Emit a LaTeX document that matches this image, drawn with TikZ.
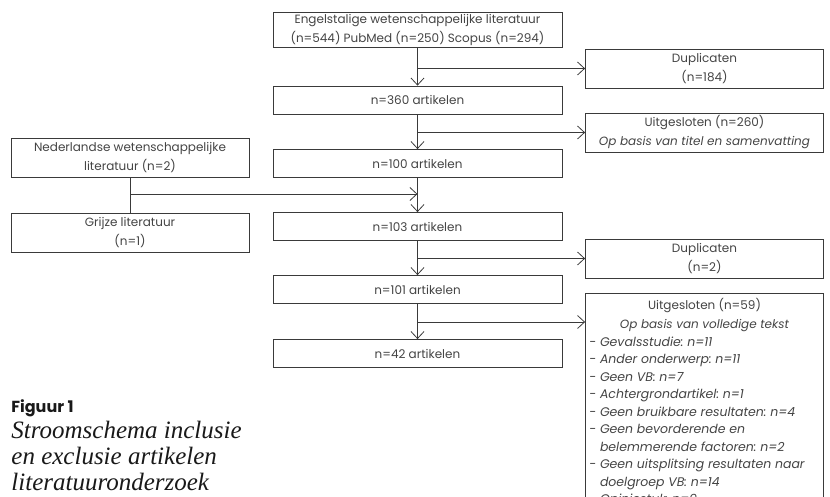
\documentclass[tikz,border=0pt]{standalone}
\usepackage{fontspec}
\setmainfont{Poppins}
\newfontfamily\capserif{Liberation Serif}
\usetikzlibrary{arrows.meta}
\definecolor{lijn}{HTML}{3A3A3A}
\definecolor{tekst}{HTML}{444444}
\frenchspacing

\begin{document}
\begin{tikzpicture}
[x=1pt, y=-1pt, font=\fontsize{12}{19}\selectfont, line width=0.8pt, text=tekst,
hoofd/.style={rectangle, draw=lijn, inner sep=0pt, minimum width=289pt, minimum height=28pt, align=center},
zij/.style={rectangle, draw=lijn, inner sep=0pt, minimum width=238pt, minimum height=39pt, align=center},
regel/.style={anchor=base west, inner sep=0pt, font=\fontsize{12.5}{17.5}\selectfont\itshape},
pijl/.style={draw=lijn, -{Straight Barb[length=7pt, width=13pt]}}]

\useasboundingbox (0,0) rectangle (830,497);
\clip (0,0) rectangle (830,497);

\node[hoofd, minimum height=35pt] (engels) at (417.5,29.5) {Engelstalige wetenschappelijke literatuur\\(n=544) PubMed (n=250) Scopus (n=294)};
\node[hoofd] (n360) at (417.5,100) {n=360 artikelen};
\node[hoofd] (n100) at (417.5,163.5) {n=100 artikelen};
\node[hoofd] (n103) at (417.5,226.5) {n=103 artikelen};
\node[hoofd] (n101) at (417.5,289.5) {n=101 artikelen};
\node[hoofd] (n42) at (417.5,353.5) {n=42 artikelen};

\node[zij] (dup1) at (704.5,68.5) {Duplicaten\\(n=184)};
\node[zij] (uit1) at (704.5,132.5) {Uitgesloten (n=260)\\\textit{Op basis van titel en samenvatting}};
\node[zij] (dup2) at (704.5,258.5) {Duplicaten\\(n=2)};
\node[zij, minimum height=230pt, anchor=north] (uit2) at (704.5,293) {};

\node[zij] (ned) at (130,157.5) {Nederlandse wetenschappelijke\\literatuur (n=2)};
\node[zij] (grijs) at (130,233) {Grijze literatuur\\(n=1)};

% tekst in het laatste uitsluitingsblok
\node[anchor=base, inner sep=0pt] (kop1) at (704.5,309) {Uitgesloten (n=59)};
\node[anchor=base, inner sep=0pt] (kop2) at (704.5,328) {\textit{Op basis van volledige tekst}};
\foreach \tekst [count=\i from 0] in {{- Gevalsstudie: n=11}, {- Ander onderwerp: n=11}, {- Geen VB: n=7},
  {- Achtergrondartikel: n=1}, {- Geen bruikbare resultaten: n=4}, {- Geen bevorderende en},
  {\hphantom{- }belemmerende factoren: n=2}, {- Geen uitsplitsing resultaten naar},
  {\hphantom{- }doelgroep VB: n=14}, {- Opiniestuk: n=9}} {
  \node[regel] (r\i) at (589,346+17.5*\i) {\tekst};
}

\draw[pijl] (engels) -- (n360);
\draw[pijl] (engels.south |- dup1) -- (dup1);
\draw[pijl] (n360) -- (n100);
\draw[pijl] (n360.south |- uit1) -- (uit1);
\draw[pijl] (n100) -- (n103);
\draw[pijl] (n103) -- (n101);
\draw[pijl] (n103.south |- dup2) -- (dup2);
\draw[pijl] (n101) -- (n42);
\path (uit2.north west) ++(0,29) coordinate (uit2in);
\draw[pijl] (n101.south |- uit2in) -- (uit2in);

\coordinate (samen) at (417.5,194);
\draw[draw=lijn] (ned) -- (grijs);
\draw[pijl] (ned.south |- samen) -- (samen);

\node[anchor=west, inner sep=0pt, text=black!90, font=\fontsize{16}{18}\selectfont\bfseries] (figuur) at (11,408) {Figuur 1};
\node[anchor=north west, inner sep=0pt, align=left, text=black!90, font=\capserif\itshape\fontsize{25}{26}\selectfont] (titel) at (11,421) {Stroomschema inclusie\\en exclusie artikelen\\literatuuronderzoek};
\end{tikzpicture}
\end{document}
